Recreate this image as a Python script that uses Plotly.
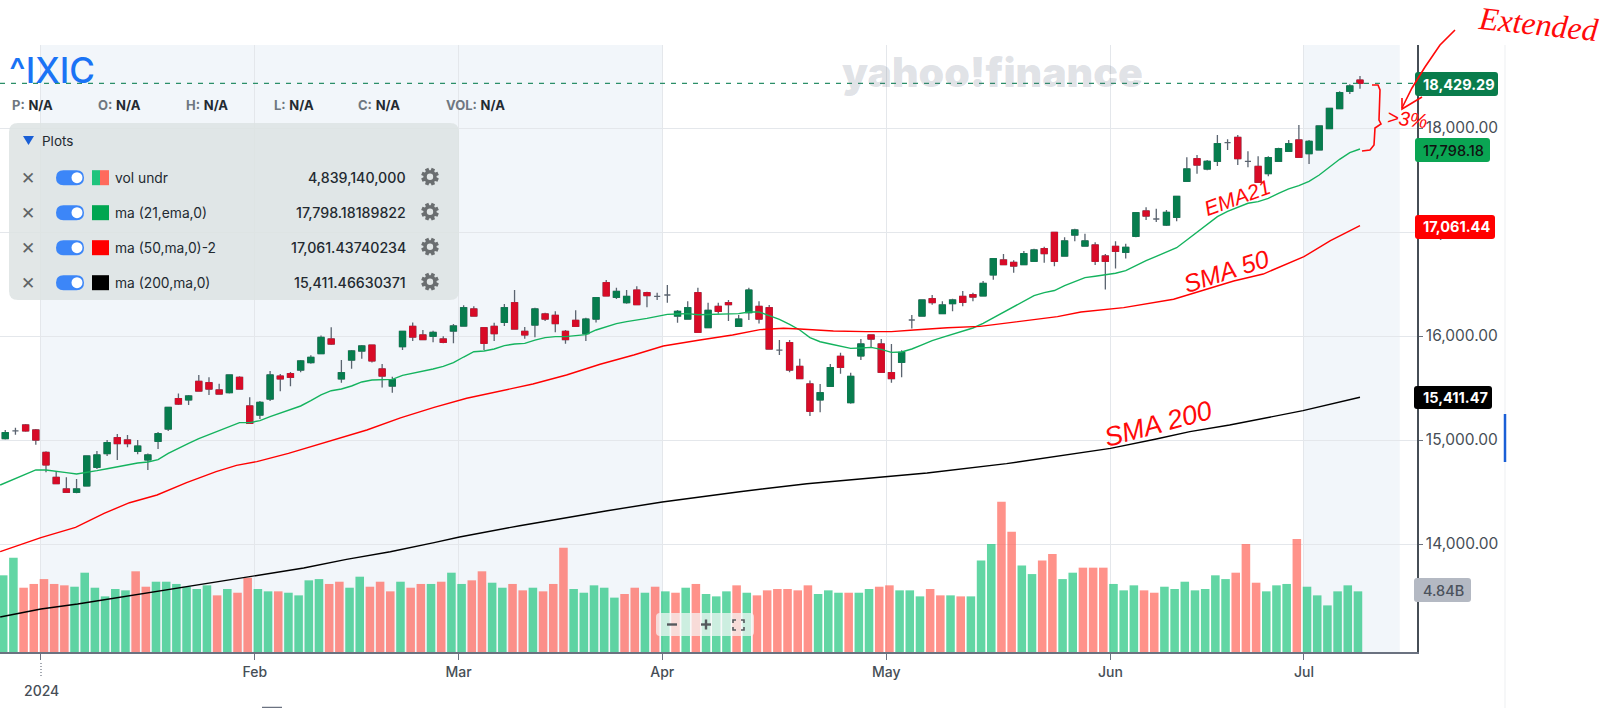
import math
import plotly.graph_objects as go

W, H = 1614, 708

# ---------- data ----------
day_index = list(range(-4, 130))   # trading-day number, 0 = 2 Jan 2024
month_ticks = [-0.5, 20.5, 40.5, 60.5, 82.5, 104.5, 123.5]
month_labels = ["", "Feb", "Mar", "Apr", "May", "Jun", "Jul"]
price_ticks = [14000, 15000, 16000, 17000, 18000]

opens = [15013,15087,15144,15096,14881,14641,14529,14497,14558,14737,14869,15022,15000,14891,14808,14987,15106,15398,15385,15564,
 15551,15481,15455,15603,15327,15240,15394,15615,15638,15673,15744,15830,15971,15587,15769,15856,15913,15683,15519,15897,
 16093,16010,15997,15971,16048,16096,16260,16080,16093,16131,16320,16045,16106,16212,16199,16045,16151,16022,16163,16513,
 16372,16320,16442,16417,16381,16394,16192,16163,16417,16080,16285,16320,16093,16224,16285,16272,15865,15936,15708,15539,
 15385,15516,15805,15359,15808,16010,15923,15648,15747,16154,16192,16359,16215,16311,16381,16397,16385,16587,16731,16708,
 16686,16718,16840,16997,16769,16971,16865,16875,16769,16862,16805,16958,17202,17125,17067,17141,17487,17705,17606,17680,
 17859,17910,17680,17631,17561,17680,17776,17885,17753,17789,17994,18186,18353,18461]
highs = [15096,15118,15154,15106,14891,14699,14641,14625,14846,14894,15000,15058,15048,15000,14869,15077,15314,15446,15433,15625,
 15603,15542,15625,15612,15410,15375,15664,15635,15654,15769,15814,16006,16083,15769,15865,15913,15913,15731,15609,16051,
 16131,16058,16051,15997,16115,16295,16285,16080,16128,16308,16442,16087,16272,16224,16237,16058,16247,16176,16372,16538,
 16465,16442,16478,16426,16417,16490,16250,16333,16465,16320,16320,16346,16202,16465,16333,16298,15961,15961,15782,15571,
 15539,15731,15840,15647,15971,16010,15971,15923,15862,16202,16346,16394,16333,16359,16433,16417,16529,16744,16789,16728,
 16817,16840,16859,16997,16949,17032,16984,16901,16789,16910,16888,17189,17237,17224,17212,17343,17718,17740,17692,17933,
 17891,17933,17776,17728,17728,17811,17885,18029,17885,18019,18189,18353,18420,18500]
lows = [15006,15051,15080,14955,14689,14577,14494,14487,14555,14721,14846,14808,14930,14862,14712,14914,15087,15337,15337,15468,
 15433,15439,15446,15484,15157,15202,15375,15468,15516,15651,15734,15827,15914,15551,15686,15782,15744,15506,15455,15865,
 15952,15962,15939,15930,15930,16093,16186,15865,15952,16096,16061,15974,15987,16144,16035,15926,16090,15952,16131,16381,
 16356,16311,16298,16276,16346,16320,16128,16160,16032,16077,16215,16144,16090,16154,16119,15872,15817,15651,15587,15231,
 15266,15510,15638,15349,15769,15891,15648,15551,15603,16071,16192,16301,16215,16237,16285,16333,16381,16542,16683,16609,
 16683,16715,16705,16670,16766,16910,16862,16683,16446,16648,16744,16949,17115,17096,17058,17103,17484,17561,17593,17635,
 17788,17644,17622,17474,17535,17676,17772,17715,17654,17789,17991,18183,18327,18378]
closes = [15071,15087,15087,15000,14760,14580,14497,14529,14846,14856,14975,14965,14965,14942,14856,15061,15314,15346,15423,15471,
 15490,15442,15625,15490,15160,15362,15625,15587,15603,15760,15795,15987,15923,15647,15856,15904,15760,15615,15580,16045,
 15990,15965,16035,15939,16096,16272,16192,15929,16022,16272,16067,16010,16260,16163,16119,15965,16093,16163,16369,16385,
 16429,16381,16301,16388,16381,16394,16237,16272,16035,16247,16237,16301,16163,16442,16163,15875,15865,15673,15590,15276,
 15455,15696,15699,15612,15923,15971,15651,15590,15843,16154,16346,16321,16298,16346,16324,16375,16506,16744,16686,16673,
 16792,16827,16792,16718,16914,17019,16914,16718,16718,16814,16853,17186,17154,17125,17189,17343,17606,17644,17680,17849,
 17859,17705,17680,17478,17715,17801,17849,17718,17872,18019,18189,18340,18404,18429.29]

volume_b = [6.12,7.53,5.13,5.43,5.82,5.43,5.32,5.21,6.33,5.13,4.44,5.03,4.92,6.44,5.21,5.61,5.61,5.43,5.21,5.03,
 5.32,4.52,5.03,4.73,5.93,5.03,4.84,4.84,4.73,4.52,5.72,5.82,5.43,5.61,5.13,6.01,5.21,5.61,4.84,5.61,
 5.13,5.43,5.43,5.61,6.33,5.43,5.72,6.44,5.53,5.13,5.43,4.92,5.13,4.84,5.43,8.32,5.03,4.73,5.32,5.13,
 4.34,4.63,5.13,4.73,5.21,4.84,4.73,5.13,5.43,4.63,4.44,4.84,5.32,4.73,4.52,4.92,5.03,5.03,4.92,5.32,
 4.63,4.92,4.73,4.73,4.73,5.03,5.21,5.32,4.92,4.92,4.44,5.03,4.52,4.52,4.44,4.44,7.31,8.62,11.99,9.60,
 6.91,6.22,7.31,7.82,5.82,6.33,6.73,6.73,6.73,5.43,4.92,5.32,4.92,4.73,5.21,5.03,5.61,4.92,5.03,6.12,
 5.82,6.33,8.62,5.53,4.84,5.32,5.43,9.02,5.21,4.52,3.72,4.84,5.32,4.84]
vol_up = ["g","g","r","r","r","r","r","g","g","g","g","g","g","r","r","g","g","g","g","g",
 "g","r","g","r","r","g","g","r","g","g","g","g","r","r","g","g","r","r","r","g",
 "r","r","g","r","g","g","r","r","g","g","r","r","g","r","r","r","g","g","g","g",
 "g","r","r","g","r","g","r","g","r","g","g","g","r","g","r","r","r","r","r","r",
 "g","g","g","r","g","g","r","r","g","g","g","r","r","g","r","g","g","g","r","r",
 "g","g","r","r","g","g","r","r","r","g","g","g","r","r","g","g","g","g","g","g",
 "g","r","r","r","g","g","g","r","g","g","g","g","g","g"]

ema21_x = [-4.5,-2.5,-1,0,1,2,3,4,5,6,7,8,9,10,11,12,13,14,15,16,17,18,19,20,21,22,23,24,25,26,27,28,29,30,31,32,33,34,
 35,36,37,38,39,40,41,42,43,44,45,46,47,48,49,50,51,52,53,54,55,56,57,58,59,60,61,62,63,64,65,66,67,68,69,70,71,72,73,74,75,76,77,78,79,80,81,
 82,83,84,85,86,87,88,89,90,91,92,93,94,95,96,97,98,99,100,101,102,103,104,105,106,107,108,109,110,111,112,113,114,115,116,117,118,119,120,121,122,123,124,125,126,127,128,129]
ema21 = [14567,14648,14712,14712,14702,14686,14673,14686,14705,14724,14744,14760,14779,14789,14811,14872,14923,14968,15013,15051,15087,15128,15167,15167,15186,15224,15256,15288,15327,15378,15433,15474,15490,15519,15558,15577,15583,15583,
 15622,15641,15660,15683,15708,15744,15798,15849,15856,15875,15907,15923,15929,15961,15984,15994,15994,16000,16013,16058,16090,16119,16138,16151,16170,16189,16208,16211,16215,16205,16208,16215,16218,16215,16231,16231,16196,16160,16112,16058,15984,15945,15923,15904,15881,15885,15891,
 15872,15843,15846,15875,15914,15955,15987,16019,16051,16077,16122,16176,16228,16282,16340,16388,16417,16437,16485,16526,16561,16574,16587,16603,16628,16680,16724,16766,16805,16849,16923,16997,17067,17147,17199,17240,17276,17292,17324,17372,17414,17446,17487,17548,17622,17699,17763,17798.18]
sma50_x = [-4.5,-0.5,2.9,5.7,8.2,10.9,13.8,16.7,18.7,20.7,23.8,27.6,29.8,31.5,34.8,38.1,41.3,44.6,47.8,51.1,54.4,57.7,60.6,64.2,67.4,70.1,72.4,74,77.3,80.5,83,85.2,88.5,91.7,95,96.7,99.3,101.6,104.5,105.8,110.7,114,116.6,119.5,123.5,126.1,129]
sma50 = [13926,14061,14160,14295,14397,14471,14590,14696,14756,14792,14872,14984,15048,15096,15212,15314,15401,15474,15538,15625,15728,15817,15904,15961,16010,16061,16074,16067,16048,16042,16042,16058,16080,16093,16131,16157,16186,16231,16256,16273,16353,16449,16529,16596,16763,16917,17061.44]
sma200_x = [-4.5,-0.5,3.1,8.2,12.5,16.8,20.6,25.3,29.5,33.8,38.1,40.6,46.5,50.8,55.1,60.5,68.1,74.7,82.5,86.5,94.3,100.8,104.5,109,112.3,116.2,123.4,129]
sma200 = [13298,13375,13423,13503,13567,13638,13695,13769,13852,13926,14013,14067,14176,14250,14320,14404,14503,14580,14648,14683,14773,14866,14920,15010,15080,15144,15282,15411.47]

plot_rows = ["vol undr", "ma (21,ema,0)", "ma (50,ma,0)-2", "ma (200,ma,0)"]
plot_values = ["4,839,140,000", "17,798.18189822", "17,061.43740234", "15,411.46630371"]
ohlc_fields = ["P:", "O:", "H:", "L:", "C:", "VOL:"]

# ---------- helpers ----------
FONT = "Inter"
X_RANGE = [-46/10.186, (1417-46)/10.186]

def px(x): return x/W
def py(y): return 1-y/H

def rrect(x0, y0, x1, y1, r):
    a, b, c, d = px(x0), px(x1), py(y0), py(y1)
    rx, ry = r/W, r/H
    return (f"M{a+rx},{c} L{b-rx},{c} Q{b},{c} {b},{c-ry} L{b},{d+ry} Q{b},{d} {b-rx},{d} "
            f"L{a+rx},{d} Q{a},{d} {a},{d+ry} L{a},{c-ry} Q{a},{c} {a+rx},{c} Z")

def poly(pts, close=False):
    s = "M" + " L".join(f"{px(x)},{py(y)}" for x, y in pts)
    return s + (" Z" if close else "")

shapes, notes = [], []
def fill_path(path, color, opacity=1.0, layer="above"):
    shapes.append(dict(type="path", xref="paper", yref="paper", path=path, fillcolor=color,
                       line=dict(width=0), opacity=opacity, layer=layer))
def stroke(pts, color, width=1.5, dash=None):
    shapes.append(dict(type="path", xref="paper", yref="paper", path=poly(pts), layer="above",
                       line=dict(color=color, width=width, dash=dash or "solid")))
def text(x, y, s, size=14, color="#232a31", anchor="left", weight=None, family=FONT, angle=0, italic=False):
    f = dict(size=size, color=color, family=family)
    if weight: f["weight"] = weight
    if italic: f["style"] = "italic"
    notes.append(dict(xref="paper", yref="paper", x=px(x), y=py(y), text=s, showarrow=False,
                      xanchor=anchor, yanchor="middle", font=f, textangle=angle, borderpad=0, borderwidth=0))
def gear(cx, cy, color, hole):
    pts = []
    for k in range(8):
        a = k*math.pi/4 + math.pi/8
        for off, rad in [(-0.30, 6.6), (-0.20, 9.0), (0.20, 9.0), (0.30, 6.6)]:
            pts.append((cx + rad*math.cos(a+off), cy + rad*math.sin(a+off)))
    fill_path(poly(pts, True), color)
    shapes.append(dict(type="circle", xref="paper", yref="paper", x0=px(cx-3.2), x1=px(cx+3.2), y0=py(cy+3.2), y1=py(cy-3.2),
                       fillcolor=hole, line=dict(width=0), layer="above"))

# ---------- figure ----------
fig = go.Figure()
fig.add_trace(go.Bar(x=day_index, y=volume_b, yaxis="y2", width=0.84, offset=-0.62,
                     marker=dict(color=["rgba(31,196,125,0.7)" if d == "g" else "rgba(255,100,88,0.7)" for d in vol_up],
                                 line=dict(width=0)), showlegend=False))
wick = "#5b6470"
fig.add_trace(go.Candlestick(x=day_index, open=opens, high=highs, low=lows, close=closes, whiskerwidth=0,
                             increasing=dict(line=dict(color=wick, width=1.3), fillcolor=wick),
                             decreasing=dict(line=dict(color=wick, width=1.3), fillcolor=wick), showlegend=False))
solid = [i for i in range(len(opens)) if opens[i] != closes[i]]
fig.add_trace(go.Candlestick(x=[day_index[i] for i in solid], open=[opens[i] for i in solid],
                             close=[closes[i] for i in solid],
                             high=[max(opens[i], closes[i]) for i in solid], low=[min(opens[i], closes[i]) for i in solid],
                             whiskerwidth=0,
                             increasing=dict(line=dict(color="#077d4e", width=1), fillcolor="#077d4e"),
                             decreasing=dict(line=dict(color="#d80b27", width=1), fillcolor="#d80b27"), showlegend=False))
for xs, ys, col in [(ema21_x, ema21, "#14b35e"), (sma50_x, sma50, "#ff0000"), (sma200_x, sma200, "#000000")]:
    fig.add_trace(go.Scatter(x=xs, y=ys, mode="lines", line=dict(color=col, width=1.4), showlegend=False))

# shaded periods
for a, b in [(-0.5, 60.5), (123.5, 132.9)]:
    shapes.append(dict(type="rect", xref="x", yref="paper", x0=a, x1=b, y0=py(652), y1=py(45),
                       fillcolor="#f2f6fa", line=dict(width=0), layer="below"))

# last price line
shapes.append(dict(type="line", xref="paper", yref="y", x0=0, x1=px(1417), y0=closes[-1], y1=closes[-1],
                   line=dict(color="#2b8f68", width=1.1, dash="5px,6px"), layer="above"))

# title + OHLC row
text(9, 70, "^IXIC", size=35, color="#1a73f5", weight=500)
for fx, fname in zip([12, 98, 186, 274, 358, 446], ohlc_fields):
    text(fx, 105, f'<span style="color:#6e7780"><b>{fname}</b></span> <b>N/A</b>', size=13, color="#232a31")
text(992, 72, "yahoo!finance", size=41, color="rgba(95,110,130,0.2)", anchor="center", weight=900)

# plots panel
PANEL = "#dde3e3"
fill_path(rrect(9, 123, 459, 300, 9), PANEL, 0.86)
fill_path(poly([(23, 136), (34, 136), (28.5, 145)], True), "#1a5fd6")
text(42, 141, "Plots", size=13.5)
for r, (name, val) in enumerate(zip(plot_rows, plot_values)):
    yc = 177.7 + r*35
    text(27.5, yc, "✕", size=17, color="#5f6365", anchor="center", family="DejaVu Sans")
    fill_path(rrect(56, yc-7.5, 84, yc+7.5, 7.5), "#3c86f8")
    shapes.append(dict(type="circle", xref="paper", yref="paper", x0=px(71.5), x1=px(82.5), y0=py(yc+5.5), y1=py(yc-5.5),
                       fillcolor="#ffffff", line=dict(width=0), layer="above"))
    if r == 0:
        fill_path(poly([(92, yc-7.5), (100, yc-7.5), (100, yc+7.5), (92, yc+7.5)], True), "#1fc47d")
        fill_path(poly([(100, yc-7.5), (109, yc-7.5), (109, yc+7.5), (100, yc+7.5)], True), "#ff6a5c")
    else:
        col = ["#00a651", "#ff0000", "#000000"][r-1]
        fill_path(poly([(92, yc-7.5), (109, yc-7.5), (109, yc+7.5), (92, yc+7.5)], True), col)
    text(115, yc, name, size=13.8)
    text(406, yc, val, size=14.2, anchor="right", weight=500)
    gear(430, yc-1, "#6a6e70", "#e1e6e6")

# right-hand labels
for x0, y0, x1, y1, bg, fg, s, w in [
    (1415, 72, 1498, 96, "#097c4c", "#ffffff", "18,429.29", 700),
    (1415, 138, 1490, 162, "#0aa553", "#111111", "17,798.18", 500),
    (1415, 215, 1495, 239, "#ff0000", "#ffffff", "17,061.44", 700),
    (1414, 386, 1492, 409, "#000000", "#ffffff", "15,411.47", 700),
    (1414, 578, 1471, 602, "#b4b9c3", "#4b525c", "4.84B", 500)]:
    fill_path(rrect(x0, y0, x1, y1, 3), bg)
    text(1423, (y0+y1)/2, s, size=14.5, color=fg, weight=w)

# right edge column and small marks
stroke([(1505, 45), (1505, 708)], "#f3f4f6", 1.5)
stroke([(1505, 414), (1505, 462)], "#1a5fd6", 2.5)
stroke([(41, 663), (41, 676)], "#6b7280", 1.2, "1px,2px")
stroke([(262, 707.5), (282, 707.5)], "#6b7280", 1.5)
text(41, 690, "2024", size=14, color="#464e56", anchor="center", weight=500)

# zoom control
fill_path(rrect(656, 613, 754, 636, 4), "#f5f6f6", 0.72)
stroke([(667, 624.5), (677, 624.5)], "#555a5e", 2.4)
stroke([(701, 624.5), (711, 624.5)], "#555a5e", 2.4)
stroke([(706, 619.5), (706, 629.5)], "#555a5e", 2.4)
for sx, sy in [(733, 620), (744, 620), (733, 630), (744, 630)]:
    dx = 3 if sx == 733 else -3
    dy = 3 if sy == 620 else -3
    stroke([(sx+dx, sy), (sx, sy), (sx, sy+dy)], "#555a5e", 1.6)

# hand-written markup
RED = "#ff0a0a"
text(1538, 24, "Extended", size=32, color=RED, anchor="center", family="Liberation Serif", angle=6, italic=True)
text(1237, 198, "EMA21", size=21, color=RED, anchor="center", family="Liberation Sans", angle=-20, italic=True)
text(1226, 271, "SMA 50", size=25, color=RED, anchor="center", family="Liberation Sans", angle=-18, italic=True)
text(1158, 424, "SMA 200", size=27, color=RED, anchor="center", family="Liberation Sans", angle=-15, italic=True)
text(1407, 119, ">3%", size=20, color=RED, anchor="center", family="Liberation Sans", angle=6, italic=True)
stroke([(1455, 30), (1440, 45), (1425, 67), (1412, 88), (1402, 108)], RED, 1.6)
stroke([(1402, 98), (1402, 109), (1422, 97)], RED, 1.6)
stroke([(1372, 85), (1378, 85), (1380, 90), (1379, 120), (1381, 124), (1375, 128), (1374, 145), (1370, 150), (1362, 151)], RED, 1.6)

fig.update_layout(
    width=W, height=H, autosize=False, margin=dict(l=0, r=0, t=0, b=0, pad=0),
    paper_bgcolor="#ffffff", plot_bgcolor="#ffffff", showlegend=False, hovermode=False,
    barmode="overlay", boxgap=0.4, boxgroupgap=0, shapes=shapes, annotations=notes,
    font=dict(family=FONT, color="#464e56"),
    xaxis=dict(domain=[0, 1417/W], range=X_RANGE, tickmode="array", tickvals=month_ticks, ticktext=month_labels,
               showgrid=True, gridcolor="#e4e7eb", gridwidth=1.2, zeroline=False, showline=True, linecolor="#6b7280", linewidth=1.5,
               ticks="outside", ticklen=6, tickcolor="#6b7280", tickwidth=1, tickfont=dict(size=14, color="#464e56", family=FONT, weight=500),
               rangeslider=dict(visible=False), fixedrange=True),
    yaxis=dict(domain=[1-652/H, 1-45/H], range=[18000-(652-128)/0.104, 18000+(128-45)/0.104], side="right", overlaying="y2",
               tickmode="array", tickvals=price_ticks, tickformat=",.2f", showgrid=True, gridcolor="#e4e7eb", gridwidth=1.2,
               zeroline=False, showline=True, linecolor="#464e56", linewidth=1.5, ticks="outside", ticklen=4,
               tickcolor="#6b7280", tickfont=dict(size=15.5, color="#464e56", family=FONT), fixedrange=True),
    yaxis2=dict(domain=[1-652/H, 1-45/H], range=[0, 607/12.53], visible=False, fixedrange=True, showgrid=False),
)

assert len(opens) == len(highs) == len(lows) == len(closes) == len(volume_b) == len(vol_up) == len(day_index)
assert len(ema21) == len(ema21_x) and len(sma50) == len(sma50_x) and len(sma200) == len(sma200_x)

fig.write_html("out.html", config={"displayModeBar": False},
               post_script="document.body.style.margin='0';document.body.style.overflow='hidden';")
